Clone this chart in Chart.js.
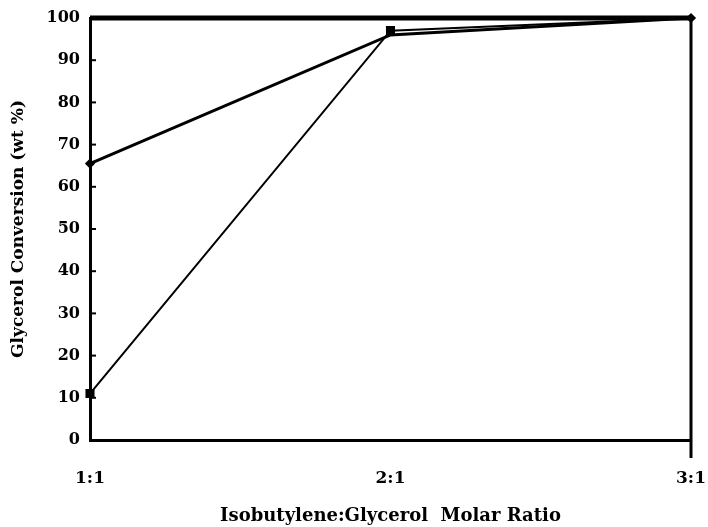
<!DOCTYPE html>
<html>
<head>
<meta charset="utf-8">
<script src="https://cdn.jsdelivr.net/npm/chart.js@4.4.1/dist/chart.umd.min.js"></script>
<style>
  html, body { margin: 0; padding: 0; background: #fff; }
  #wrap { width: 708px; height: 527px; position: relative; }
</style>
</head>
<body>
<div id="wrap"><canvas id="c" width="708" height="527"></canvas></div>
<script>
// Molar ratios on the x axis
const ratios = ['1:1', '2:1', '3:1'];
// Glycerol conversion (wt %) per run
const seriesTop = [100, 100, 100];
const seriesMid = [65.5, 96, 100];
const seriesLow = [11, 97, 100];
const yTicks = [0, 10, 20, 30, 40, 50, 60, 70, 80, 90, 100];

const FONT = '"DejaVu Serif", "Liberation Serif", serif';

// Short tick marks on the inner side of the y axis, plus the right frame line
const frame = {
  id: 'frame',
  afterDatasetsDraw(chart) {
    const { ctx, chartArea: a, scales } = chart;
    ctx.save();
    ctx.strokeStyle = '#000';
    ctx.lineWidth = 2;
    yTicks.forEach(v => {
      if (v === 0 || v === 100) return;
      const y = scales.y.getPixelForValue(v);
      ctx.beginPath();
      ctx.moveTo(a.left, y);
      ctx.lineTo(a.left + 6, y);
      ctx.stroke();
    });
    const xr = scales.x.getPixelForValue(2);
    ctx.lineWidth = 3;
    ctx.beginPath();
    ctx.moveTo(xr, a.top - 2);
    ctx.lineTo(xr, a.bottom + 18);
    ctx.stroke();
    ctx.restore();
  }
};

new Chart(document.getElementById('c'), {
  type: 'line',
  data: {
    labels: ratios,
    datasets: [
      {
        data: seriesTop,
        borderColor: '#000',
        borderWidth: 5,
        pointRadius: 0,
        tension: 0
      },
      {
        data: seriesMid,
        borderColor: '#000',
        backgroundColor: '#000',
        borderWidth: 3,
        pointStyle: 'rectRot',
        pointRadius: [3, 0, 3],
        tension: 0
      },
      {
        data: seriesLow,
        borderColor: '#000',
        backgroundColor: '#000',
        borderWidth: 2,
        pointStyle: 'rect',
        pointRadius: [5, 5, 0],
        tension: 0
      }
    ]
  },
  options: {
    responsive: false,
    animation: false,
    clip: false,
    layout: { padding: { top: 18, right: 17, left: 0, bottom: 0 } },
    plugins: { legend: { display: false }, tooltip: { enabled: false } },
    scales: {
      x: {
        type: 'category',
        offset: false,
        grid: { display: false, drawTicks: false },
        border: { display: true, color: '#000', width: 3 },
        ticks: {
          color: '#000',
          padding: 28,
          maxRotation: 0,
          font: { family: FONT, size: 17, weight: 'bold' }
        },
        title: {
          display: true,
          text: 'Isobutylene:Glycerol  Molar Ratio',
          color: '#000',
          padding: { top: 14, bottom: 0 },
          font: { family: FONT, size: 18, weight: 'bold' }
        },
        afterFit(s) {
          s.height = 87;
          s.paddingLeft = 0;
          s.paddingRight = 0;
        }
      },
      y: {
        min: 0,
        max: 100,
        grid: { display: false, drawTicks: false },
        border: { display: true, color: '#000', width: 3 },
        afterBuildTicks(s) { s.ticks = yTicks.map(v => ({ value: v })); },
        ticks: {
          color: '#000',
          padding: 10,
          font: { family: FONT, size: 16, weight: 'bold' }
        },
        title: {
          display: true,
          text: 'Glycerol Conversion (wt %)',
          color: '#000',
          padding: { top: 8, bottom: 12 },
          font: { family: FONT, size: 17, weight: 'bold' }
        },
        afterFit(s) {
          s.width = 90;
          s.paddingTop = 0;
          s.paddingBottom = 0;
        }
      }
    }
  },
  plugins: [frame]
});
</script>
</body>
</html>
